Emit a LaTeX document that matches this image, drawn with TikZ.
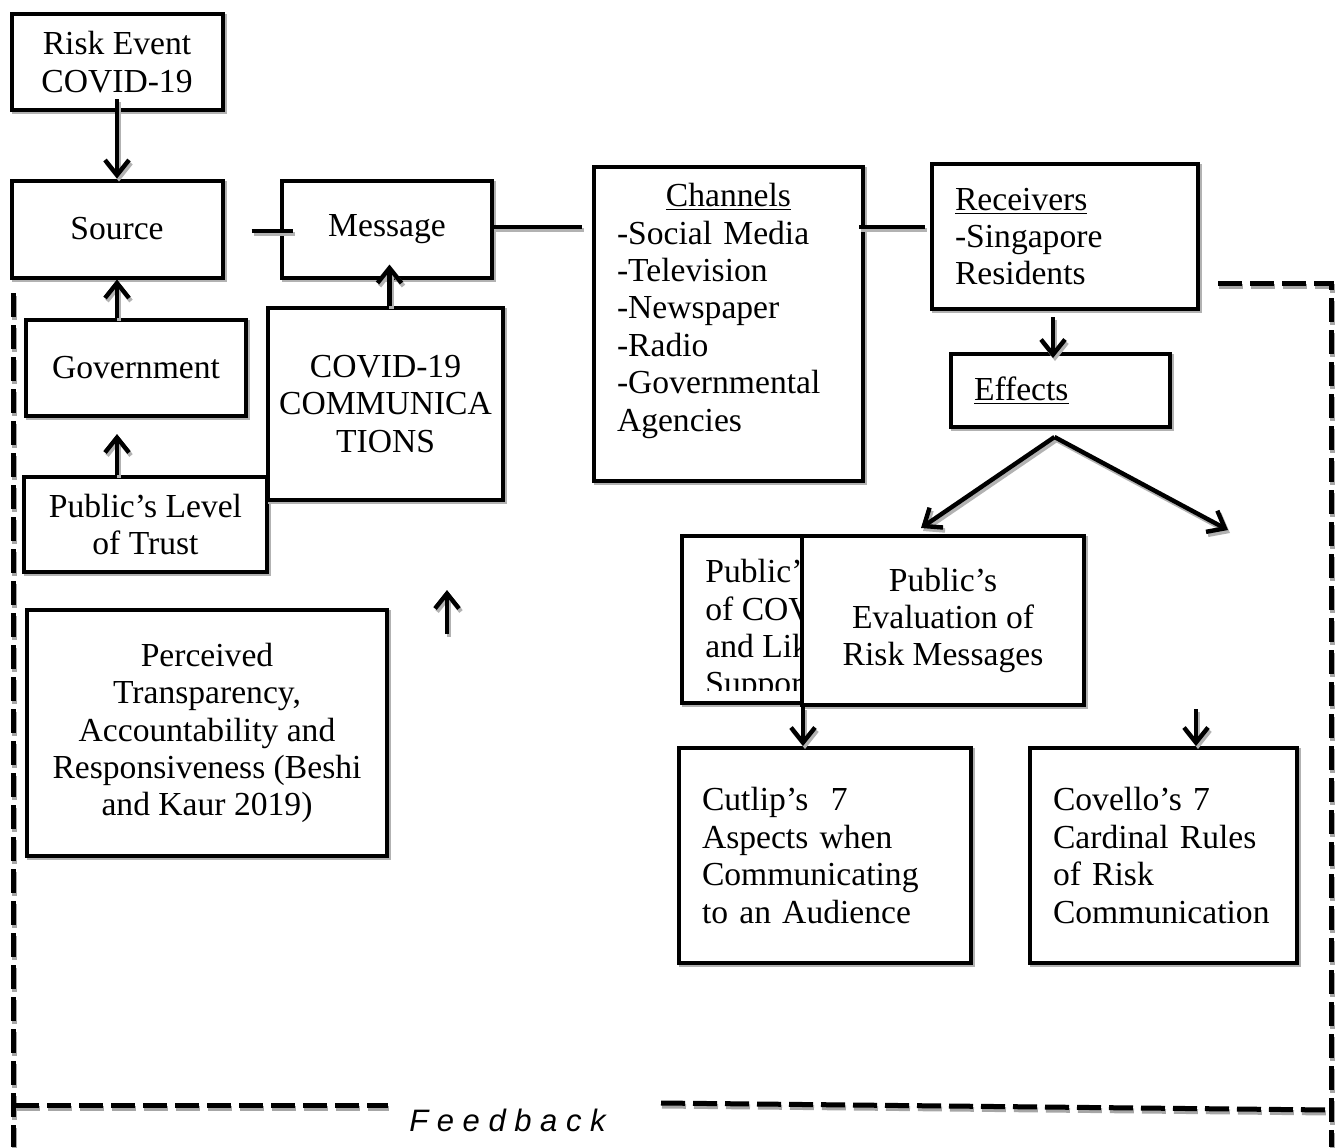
\documentclass[tikz,border=0pt]{standalone}
\usepackage{fontspec}
\setmainfont{Liberation Serif}
\setsansfont{Liberation Sans}
\usetikzlibrary{arrows.meta}

\begin{document}
\begin{tikzpicture}[x=0.5pt, y=-0.5pt,
  every node/.style={font=\fontsize{16.8pt}{18.7pt}\selectfont},
  box/.style={draw, line width=2pt, fill=white, inner sep=0pt, align=center,
    preaction={draw=black!30, line width=2pt, transform canvas={shift={(1pt,-1pt)}}}},
  listbox/.style={box, align=left, inner xsep=11.5pt, text width=#1},
  link/.style={line width=2.2pt,
    preaction={draw=black!30, line width=2.2pt, transform canvas={shift={(1pt,-1.5pt)}}}},
  arrow/.style={line width=2.2pt, -{Straight Barb[length=7.5pt,width=12pt]},
    preaction={draw=black!30, line width=2.2pt, -{Straight Barb[length=7.5pt,width=12pt]},
      transform canvas={shift={(1pt,-1.5pt)}}}},
  fbline/.style={line width=2.5pt, dash pattern=on 12pt off 4pt,
    preaction={draw=black!35, line width=2.5pt, dash pattern=on 12pt off 4pt,
      transform canvas={shift={(0.5pt,-1.5pt)}}}}
]
\useasboundingbox (0,0) rectangle (1337,1147);

% feedback loop
\coordinate (fbtl) at (13,293);
\coordinate (fbbl) at (13,1147);
\coordinate (fbl1) at (15,1105);
\coordinate (fbl2) at (388,1105);
\coordinate (fbr1) at (661,1103);
\coordinate (fbr2) at (1331,1110);
\coordinate (fbtr) at (1218,283);
\coordinate (fbbr) at (1331,1147);
\draw[fbline] (fbtl) -- (fbbl);
\draw[fbline] (fbl1) -- (fbl2);
\draw[fbline] (fbr1) -- (fbr2);
\draw[fbline] (fbtr) -| (fbbr);
\node[font=\sffamily\itshape\fontsize{15.5pt}{18pt}\selectfont] (feedback) at (507.5,1120) {F e e d b a c k};

% left column
\node[box, minimum width=105.5pt, minimum height=48pt] (risk) at (117,62) {Risk Event\\COVID-19};
\node[box, minimum width=105.5pt, minimum height=48.5pt] (source) at (117,229) {Source};
\node[box, minimum width=105pt, minimum height=48.5pt] (message) at (387,229) {Message};
\node[box, minimum width=110pt, minimum height=48pt] (government) at (136,368) {Government};
\node[box, minimum width=121.5pt, minimum height=47.5pt] (trust) at (145.5,524.5) {Public’s Level\\of Trust};
\node[box, minimum width=117.5pt, minimum height=96pt] (comms) at (385.5,404) {COVID-19\\COMMUNICA\\TIONS};
\node[box, minimum width=180pt, minimum height=123pt] (perceived) at (207,733)
  {Perceived\\Transparency,\\Accountability and\\Responsiveness (Beshi\\and Kaur 2019)};

% channels and receivers
\node[listbox=111.5pt, minimum height=157pt] (channels) at (728.5,324)
  {\hfil\underline{Channels}\hfil\\-Social Media\\-Television\\-Newspaper\\-Radio\\-Governmental\\Agencies\\[-2pt]\mbox{}};
\node[listbox=110pt, minimum height=72.5pt] (receivers) at (1065,236.5)
  {\underline{Receivers}\\-Singapore\\Residents};
\node[listbox=86.5pt, minimum height=36.5pt] (effects) at (1060.5,390.5) {\underline{Effects}};

% effects boxes
\node[box, minimum width=109pt, minimum height=83.5pt] (support) at (791,619.5) {};
\begin{scope}
  \clip (support.north west) rectangle (802,690);
  \node[anchor=north west, inner sep=0pt, align=left] (supporttext) at (705,559)
    {Public’s\\of COVI\\and Lik\\Suppor};
\end{scope}
\node[box, minimum width=141pt, minimum height=84.5pt] (evaluation) at (943,620.5)
  {Public’s\\Evaluation of\\Risk Messages};
\node[listbox=123pt, minimum height=107.5pt] (cutlip) at (825,855.5)
  {Cutlip’s~~7\\Aspects when\\Communicating\\to an Audience};
\node[listbox=110.5pt, minimum height=107.5pt] (covello) at (1163.5,855.5)
  {Covello’s 7\\Cardinal Rules\\of Risk\\Communication};

% connectors
\draw[arrow] ([yshift=6.5pt]risk.south) -- (source.north);
\draw[arrow] (source.south |- government.north) -- (source.south);
\draw[arrow] (source.south |- trust.north) -- ([yshift=-8pt]source.south |- government.south);
\draw[arrow] ([xshift=2pt]comms.north) -- ([xshift=2pt,yshift=7.5pt]comms.north |- message.south);
\draw[link] ([xshift=13.5pt,yshift=-1pt]source.east) -- ([xshift=6.5pt,yshift=-1pt]message.west);
\draw[link] ([yshift=1pt]message.east) -- ([xshift=-5pt,yshift=1pt]channels.west |- message.east);
\draw[link] ([xshift=-3pt,yshift=1pt]channels.east |- message.east) -- ([xshift=-2.5pt,yshift=1pt]receivers.west |- message.east);
\draw[arrow] ([xshift=-6pt,yshift=-3pt]receivers.south) -- ([xshift=-6pt,yshift=-3pt]receivers.south |- effects.north);
\coordinate (split) at ([xshift=-3pt,yshift=-4pt]effects.south);
\coordinate (rightend) at (1228,530);
\draw[arrow] (split) -- ([xshift=-11pt,yshift=3pt]evaluation.north);
\draw[arrow] (split) -- (rightend);
\draw[arrow] ([xshift=1.5pt]evaluation.south west) -- ([xshift=1.5pt]evaluation.south west |- cutlip.north);
\coordinate (rulesin) at (1196,709);
\draw[arrow] (rulesin) -- (rulesin |- covello.north);
\coordinate (lonetail) at (447,634);
\coordinate (lonetip) at (447,590);
\draw[arrow] (lonetail) -- (lonetip);
\end{tikzpicture}
\end{document}
